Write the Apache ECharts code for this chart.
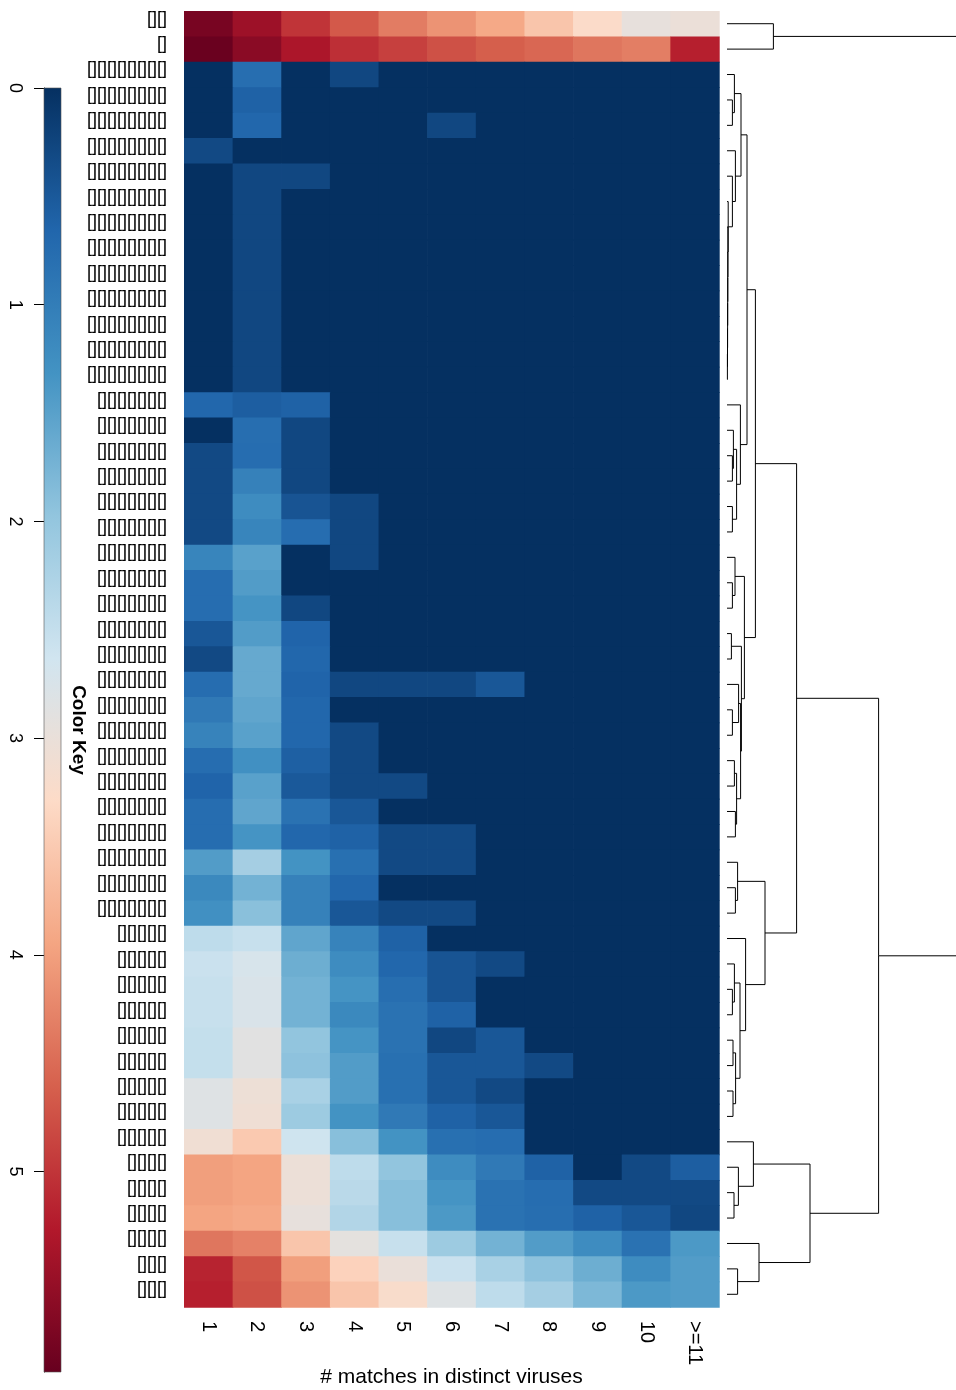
<!DOCTYPE html>
<html>
<head>
<meta charset="utf-8">
<script src="https://cdn.jsdelivr.net/npm/echarts@6/dist/echarts.min.js"></script>
<style>html,body{margin:0;padding:0;background:#fff}#c{width:956px;height:1390px}</style>
</head>
<body>
<div id="c"></div>
<script>
// ---- data ----
const columns = ['1','2','3','4','5','6','7','8','9','10','>=11'];
const rowLabels = [
  '[][]','[]',
  '[][][][][][][][]','[][][][][][][][]','[][][][][][][][]','[][][][][][][][]','[][][][][][][][]',
  '[][][][][][][][]','[][][][][][][][]','[][][][][][][][]','[][][][][][][][]','[][][][][][][][]',
  '[][][][][][][][]','[][][][][][][][]','[][][][][][][][]',
  '[][][][][][][]','[][][][][][][]','[][][][][][][]','[][][][][][][]','[][][][][][][]',
  '[][][][][][][]','[][][][][][][]','[][][][][][][]','[][][][][][][]','[][][][][][][]',
  '[][][][][][][]','[][][][][][][]','[][][][][][][]','[][][][][][][]','[][][][][][][]',
  '[][][][][][][]','[][][][][][][]','[][][][][][][]','[][][][][][][]','[][][][][][][]',
  '[][][][][][][]',
  '[][][][][]','[][][][][]','[][][][][]','[][][][][]','[][][][][]',
  '[][][][][]','[][][][][]','[][][][][]','[][][][][]',
  '[][][][]','[][][][]','[][][][]','[][][][]',
  '[][][]','[][][]'
];
const matrix = [
  [5.78, 5.45, 5.01, 4.67, 4.34, 4.12, 3.9, 3.56, 3.26, 2.96, 3.02],
  [5.9, 5.62, 5.32, 5.06, 4.9, 4.75, 4.62, 4.54, 4.4, 4.32, 5.2],
  [0, 0.78, 0, 0.28, 0, 0, 0, 0, 0, 0, 0],
  [0, 0.61, 0, 0, 0, 0, 0, 0, 0, 0, 0],
  [0, 0.67, 0, 0, 0, 0.28, 0, 0, 0, 0, 0],
  [0.31, 0, 0, 0, 0, 0, 0, 0, 0, 0, 0],
  [0, 0.28, 0.28, 0, 0, 0, 0, 0, 0, 0, 0],
  [0, 0.28, 0, 0, 0, 0, 0, 0, 0, 0, 0],
  [0, 0.28, 0, 0, 0, 0, 0, 0, 0, 0, 0],
  [0, 0.28, 0, 0, 0, 0, 0, 0, 0, 0, 0],
  [0, 0.28, 0, 0, 0, 0, 0, 0, 0, 0, 0],
  [0, 0.28, 0, 0, 0, 0, 0, 0, 0, 0, 0],
  [0, 0.28, 0, 0, 0, 0, 0, 0, 0, 0, 0],
  [0, 0.28, 0, 0, 0, 0, 0, 0, 0, 0, 0],
  [0, 0.28, 0, 0, 0, 0, 0, 0, 0, 0, 0],
  [0.67, 0.56, 0.61, 0, 0, 0, 0, 0, 0, 0, 0],
  [0, 0.78, 0.28, 0, 0, 0, 0, 0, 0, 0, 0],
  [0.31, 0.76, 0.28, 0, 0, 0, 0, 0, 0, 0, 0],
  [0.31, 1.06, 0.28, 0, 0, 0, 0, 0, 0, 0, 0],
  [0.31, 1.22, 0.44, 0.28, 0, 0, 0, 0, 0, 0, 0],
  [0.31, 1.11, 0.76, 0.28, 0, 0, 0, 0, 0, 0, 0],
  [1.11, 1.5, 0, 0.28, 0, 0, 0, 0, 0, 0, 0],
  [0.76, 1.44, 0, 0, 0, 0, 0, 0, 0, 0, 0],
  [0.76, 1.33, 0.28, 0, 0, 0, 0, 0, 0, 0, 0],
  [0.47, 1.44, 0.64, 0, 0, 0, 0, 0, 0, 0, 0],
  [0.31, 1.61, 0.67, 0, 0, 0, 0, 0, 0, 0, 0],
  [0.76, 1.61, 0.64, 0.28, 0.28, 0.28, 0.47, 0, 0, 0, 0],
  [0.94, 1.56, 0.67, 0, 0, 0, 0, 0, 0, 0, 0],
  [1.08, 1.5, 0.67, 0.31, 0, 0, 0, 0, 0, 0, 0],
  [0.76, 1.28, 0.58, 0.31, 0, 0, 0, 0, 0, 0, 0],
  [0.64, 1.5, 0.5, 0.31, 0.31, 0, 0, 0, 0, 0, 0],
  [0.76, 1.56, 0.83, 0.47, 0, 0, 0, 0, 0, 0, 0],
  [0.76, 1.33, 0.67, 0.61, 0.31, 0.31, 0, 0, 0, 0, 0],
  [1.44, 2.17, 1.31, 0.8, 0.31, 0.31, 0, 0, 0, 0, 0],
  [1.17, 1.72, 1.06, 0.67, 0, 0, 0, 0, 0, 0, 0],
  [1.28, 1.91, 1.06, 0.47, 0.31, 0.31, 0, 0, 0, 0, 0],
  [2.44, 2.53, 1.56, 1.08, 0.61, 0, 0, 0, 0, 0, 0],
  [2.56, 2.72, 1.67, 1.22, 0.67, 0.44, 0.31, 0, 0, 0, 0],
  [2.53, 2.75, 1.72, 1.33, 0.78, 0.44, 0, 0, 0, 0, 0],
  [2.53, 2.75, 1.72, 1.17, 0.83, 0.61, 0, 0, 0, 0, 0],
  [2.5, 2.88, 1.98, 1.33, 0.83, 0.28, 0.47, 0, 0, 0, 0],
  [2.5, 2.88, 1.94, 1.44, 0.8, 0.47, 0.47, 0.31, 0, 0, 0],
  [2.83, 3.05, 2.22, 1.44, 0.8, 0.47, 0.31, 0, 0, 0, 0],
  [2.83, 3.08, 2.09, 1.31, 0.94, 0.61, 0.47, 0, 0, 0, 0],
  [3.1, 3.51, 2.61, 1.89, 1.31, 0.8, 0.76, 0, 0, 0, 0],
  [4.01, 3.95, 3.03, 2.44, 1.98, 1.22, 0.94, 0.61, 0, 0.31, 0.56],
  [4.01, 3.95, 3.03, 2.39, 1.89, 1.33, 0.83, 0.76, 0.31, 0.31, 0.31],
  [3.95, 3.9, 2.96, 2.31, 1.89, 1.39, 0.83, 0.78, 0.61, 0.47, 0.28],
  [4.4, 4.29, 3.56, 2.92, 2.53, 2.09, 1.72, 1.44, 1.22, 0.83, 1.39],
  [5.17, 4.7, 4.01, 3.4, 3.0, 2.56, 2.22, 1.94, 1.67, 1.22, 1.44],
  [5.2, 4.75, 4.12, 3.56, 3.22, 2.83, 2.44, 2.17, 1.8, 1.39, 1.44]
];
const keyMax = 5.925;
const keyTicks = [0, 1, 2, 3, 4, 5];
const palette = ['#053061','#2166ac','#4393c3','#92c5de','#d1e5f0','#fddbc7','#f4a582','#d6604d','#b2182b','#67001f'];

// row dendrogram (hclust-style merges: negative = leaf row number, positive = earlier merge)
const mergeA = [-14,-13,-12,-11,-10,-9,-8,-4,-3,-7,-6, 9,-18,-17,-20,14,-16,12,-23,-22,-25,-28,-27,-30,-32,24,23,21,20,18,-35,-34,-39,-38,-41,-43,35,34,-37,32,30,-47,-46,-45,-50,-49,44,41,-1,49];
const mergeB = [-15, 1, 2, 3, 4, 5, 6,-5, 8, 7,10,11,-19,13,-21,15,16,17,-24,19,-26,-29,22,-31,-33,25,26,27,28,29,-36,31,-40,33,-42,-44,36,37,38,39,40,-48,42,43,-51,45,46,47,-2,48];
const mergeHeight = [0.02,0.025,0.03,0.035,0.04,0.045,0.06,0.27,0.37,0.27,0.42,0.70,0.27,0.32,0.27,0.48,0.67,1.00,0.27,0.40,0.22,0.27,0.58,0.37,0.42,0.48,0.68,0.72,0.87,1.42,0.42,0.53,0.27,0.37,0.30,0.30,0.43,0.65,0.93,1.90,3.48,0.35,0.57,1.32,0.53,1.60,4.15,7.58,2.32,15];
const dendroMax = 11.45;

// ---- derived ----
const heatData = [];
matrix.forEach((row, r) => row.forEach((v, c) => heatData.push([c, r, v])));

const nodeY = [], nodeH = [];
function childPos(k) { return k < 0 ? [0, -k - 0.5] : [nodeH[k - 1], nodeY[k - 1]]; }
const dendroSegs = mergeA.map((a, i) => {
  const pa = childPos(a), pb = childPos(mergeB[i]);
  nodeH[i] = mergeHeight[i];
  nodeY[i] = (pa[1] + pb[1]) / 2;
  return [pa[0], pa[1], mergeHeight[i], pb[1], pb[0]];
});

const FONT = 'Liberation Sans, Arial, Helvetica, sans-serif';
const chart = echarts.init(document.getElementById('c'), null, {renderer: 'canvas'});
chart.setOption({
  animation: false,
  backgroundColor: '#fff',
  textStyle: {fontFamily: FONT, color: '#000'},
  grid: [
    {left: 184, right: 237, top: 11, bottom: 83, outerBoundsMode: 'none', containLabel: false},
    {left: 44, width: 17, top: 88, bottom: 18, outerBoundsMode: 'none', containLabel: false},
    {left: 727, right: 0, top: 11, bottom: 83, outerBoundsMode: 'none', containLabel: false}
  ],
  xAxis: [
    {
      gridIndex: 0, type: 'category', data: columns,
      axisLine: {show: false}, axisTick: {show: false},
      axisLabel: {rotate: -90, fontSize: 20, color: '#000', margin: 14, fontFamily: FONT},
      name: '# matches in distinct viruses', nameLocation: 'middle', nameGap: 60, nameMoveOverlap: false,
      nameTextStyle: {fontSize: 21, color: '#000', fontFamily: FONT}
    },
    {gridIndex: 1, type: 'value', min: 0, max: 1, show: false},
    {gridIndex: 2, type: 'value', min: 0, max: dendroMax, show: false}
  ],
  yAxis: [
    {
      gridIndex: 0, type: 'category', data: rowLabels, inverse: true,
      axisLine: {show: false}, axisTick: {show: false},
      axisLabel: {fontSize: 18, color: '#000', margin: 17, fontFamily: FONT, verticalAlign: 'bottom', lineHeight: 10}
    },
    {
      gridIndex: 1, type: 'value', min: 0, max: keyMax, interval: 1, inverse: true, position: 'left',
      splitLine: {show: false},
      axisLine: {show: true, lineStyle: {color: '#000', width: 1}},
      axisTick: {show: true, length: 10, lineStyle: {color: '#000'}, customValues: keyTicks},
      axisLabel: {rotate: -90, fontSize: 18, color: '#000', margin: 20, fontFamily: FONT, customValues: keyTicks}
    },
    {
      gridIndex: 1, type: 'value', min: 0, max: keyMax, inverse: true, position: 'right',
      splitLine: {show: false}, axisLine: {show: false}, axisTick: {show: false}, axisLabel: {show: false},
      name: 'Color Key', nameLocation: 'middle', nameRotate: -90, nameGap: 8,
      nameTextStyle: {fontSize: 19, fontWeight: 'bold', color: '#000', fontFamily: FONT}
    },
    {gridIndex: 2, type: 'value', min: 0, max: rowLabels.length, inverse: true, show: false}
  ],
  visualMap: {
    show: false, type: 'continuous', min: 0, max: keyMax, dimension: 2, seriesIndex: 0,
    inRange: {color: palette}
  },
  series: [
    {
      type: 'custom', xAxisIndex: 0, yAxisIndex: 0, data: heatData,
      encode: {x: 0, y: 1},
      renderItem: function (params, api) {
        const c = api.coord([api.value(0), api.value(1)]);
        const s = api.size([1, 1]);
        return {
          type: 'rect',
          shape: {x: c[0] - s[0] / 2, y: c[1] - s[1] / 2, width: s[0] + 0.7, height: s[1] + 0.7},
          style: {fill: api.visual('color'), stroke: null}
        };
      }
    },
    {
      type: 'custom', xAxisIndex: 1, yAxisIndex: 1, data: [[0, 0, 1, keyMax]],
      renderItem: function (params, api) {
        const p0 = api.coord([api.value(0), api.value(1)]);
        const p1 = api.coord([api.value(2), api.value(3)]);
        const stops = palette.map((c, i) => ({offset: i / (palette.length - 1), color: c}));
        return {
          type: 'rect',
          shape: {x: p0[0], y: p0[1], width: p1[0] - p0[0], height: p1[1] - p0[1]},
          style: {fill: new echarts.graphic.LinearGradient(0, 0, 0, 1, stops), stroke: '#555', lineWidth: 0.6}
        };
      }
    },
    {
      type: 'custom', xAxisIndex: 2, yAxisIndex: 3, data: dendroSegs,
      encode: {x: [0, 2, 4], y: [1, 3]},
      renderItem: function (params, api) {
        const pts = [
          api.coord([api.value(0), api.value(1)]),
          api.coord([api.value(2), api.value(1)]),
          api.coord([api.value(2), api.value(3)]),
          api.coord([api.value(4), api.value(3)])
        ];
        return {type: 'polyline', shape: {points: pts}, style: {stroke: '#000', lineWidth: 1, fill: null}};
      }
    }
  ]
});
</script>
</body>
</html>
